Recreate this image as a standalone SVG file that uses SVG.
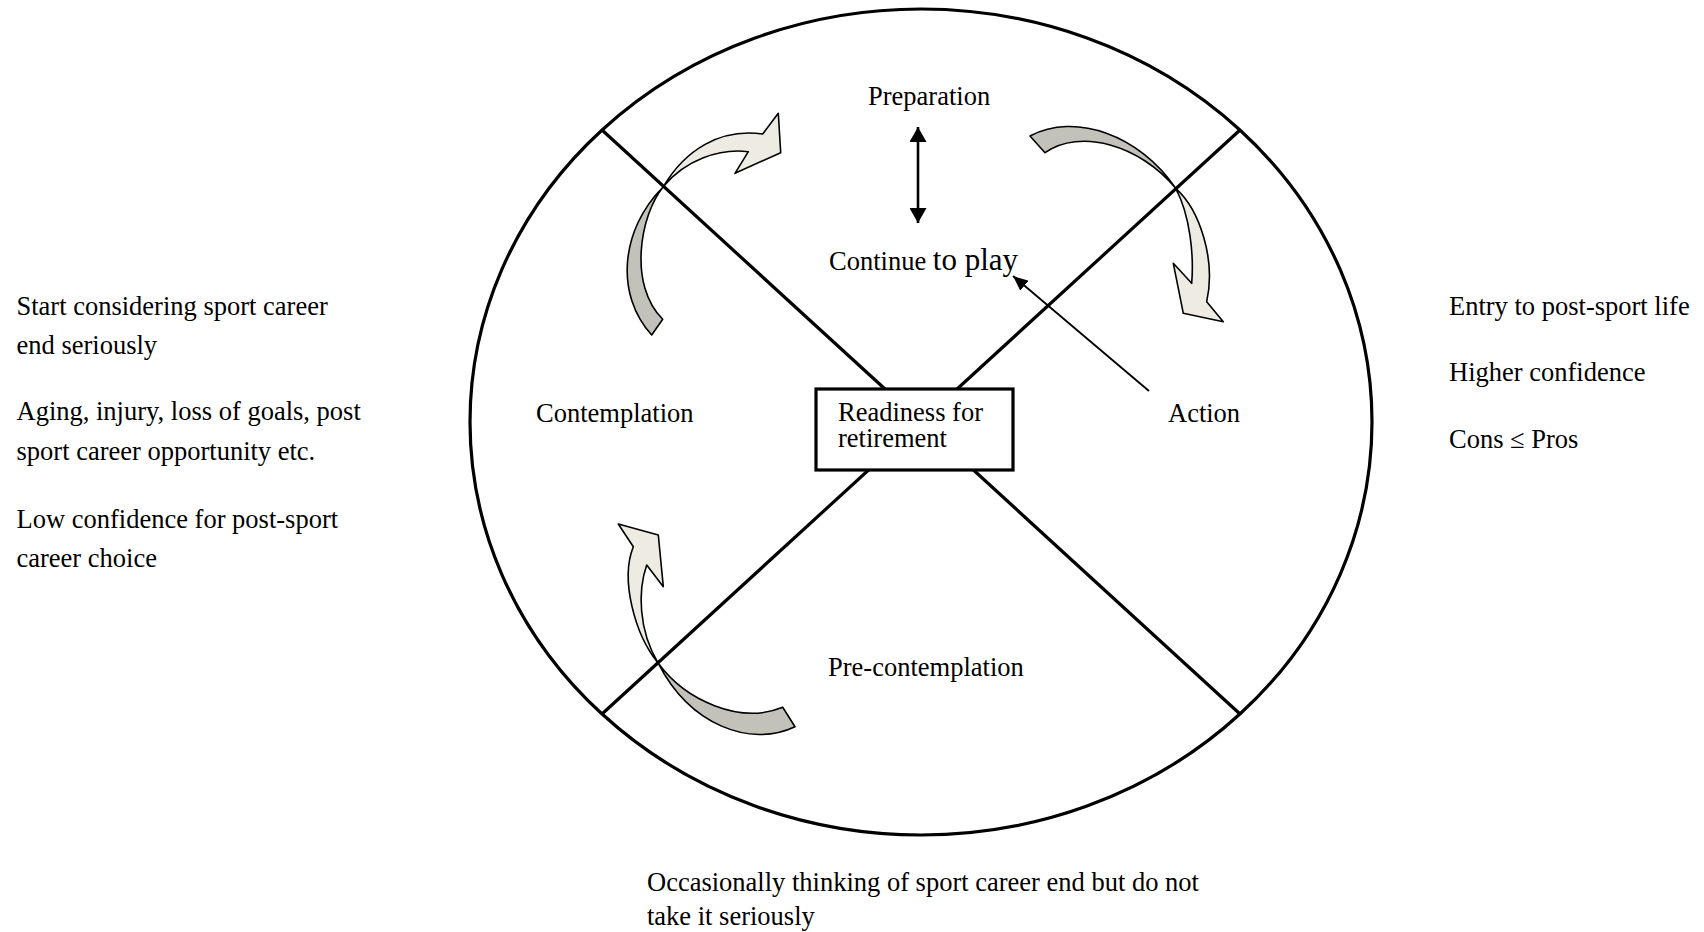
<svg xmlns="http://www.w3.org/2000/svg" width="1704" height="932" viewBox="0 0 1704 932">
<style>
text{font-family:"Liberation Serif","Times New Roman",serif;font-size:26.5px;fill:#000}
.big{font-size:31px}
.frame{fill:none;stroke:#000;stroke-width:3.2}
.box{fill:#fff;stroke:#000;stroke-width:3.2}
.dark{fill:#c3c2ba;stroke:#000;stroke-width:1.6;stroke-linejoin:round}
.light{fill:#eeece2;stroke:#000;stroke-width:1.6;stroke-linejoin:round}
.conn{stroke:#000;fill:none}
</style>
<defs>
<marker id="ahBig" viewBox="0 0 15 17" refX="15" refY="8.5" markerWidth="15" markerHeight="17" markerUnits="userSpaceOnUse" orient="auto-start-reverse">
<path d="M0,0 L15,8.5 L0,17 z" fill="#000"/>
</marker>
<marker id="ahSmall" viewBox="0 0 15 13" refX="15" refY="6.5" markerWidth="15" markerHeight="13" markerUnits="userSpaceOnUse" orient="auto">
<path d="M0,0 L15,6.5 L0,13 z" fill="#000"/>
</marker>
</defs>
<rect width="1704" height="932" fill="#fff"/>

<g id="cycle">
<ellipse class="frame" cx="921" cy="422" rx="451" ry="413"/>
<line class="frame" x1="602" y1="130" x2="1240" y2="714"/>
<line class="frame" x1="1240" y1="130" x2="602" y2="714"/>
</g>

<g id="connectors">
<line class="conn" stroke-width="2.6" x1="918" y1="127" x2="918" y2="223" marker-start="url(#ahBig)" marker-end="url(#ahBig)"/>
<line class="conn" stroke-width="1.8" x1="1149" y1="391" x2="1013" y2="276" marker-end="url(#ahSmall)"/>
<g id="arrow-contemplation-preparation">
<path class="dark" d="M651.7,335 C615,295 620,230 663.3,186.7 C640,215 628,285 662.7,319.3 Z"/>
<path class="light" d="M663.3,186.7 C685,150 720,128 762.7,134 L778.3,113.3 L780.7,152.7 L735,173.3 L748.3,151.7 C720,148 685,160 663.3,186.7 Z"/>
</g>
<g id="arrow-preparation-action">
<path class="dark" d="M1030,136 C1075,112 1140,135 1175.7,188.3 C1140,145 1080,128 1045,152.7 Z"/>
<path class="light" d="M1175.7,188.3 C1200,210 1216,260 1206.7,301.7 L1223.3,321.7 L1183.3,313.3 L1173.3,263.3 L1191.7,283.3 C1194,255 1190,215 1175.7,188.3 Z"/>
</g>
<g id="arrow-precontemplation-contemplation">
<path class="dark" d="M782.7,707.3 L795,726.7 C750,748 690,725 658.3,663.3 C685,700 740,725 782.7,707.3 Z"/>
<path class="light" d="M658.3,663.3 C635,635 620,580 633.3,546.7 L618.3,524 L658.3,535 L663.3,586.7 L646.7,565 C638,590 638,630 658.3,663.3 Z"/>
</g>
</g>

<g id="node-readiness">
<rect class="box" x="816" y="389" width="197" height="81"/>
<text x="838" y="421">Readiness for</text>
<text x="838" y="447">retirement</text>
</g>
<g id="node-preparation"><text x="868" y="105">Preparation</text></g>
<g id="node-continue"><text x="829" y="270">Continue <tspan class="big">to play</tspan></text></g>
<g id="node-contemplation"><text x="536" y="422">Contemplation</text></g>
<g id="node-action"><text x="1168" y="422">Action</text></g>
<g id="node-precontemplation"><text x="828" y="676">Pre-contemplation</text></g>

<g id="note-left">
<text x="16.5" y="315">Start considering sport career</text>
<text x="16.5" y="354">end seriously</text>
<text x="16.5" y="420">Aging, injury, loss of goals, post</text>
<text x="16.5" y="460">sport career opportunity etc.</text>
<text x="16.5" y="528">Low confidence for post-sport</text>
<text x="16.5" y="567">career choice</text>
</g>
<g id="note-right">
<text x="1449" y="315">Entry to post-sport life</text>
<text x="1449" y="381">Higher confidence</text>
<text x="1449" y="448">Cons ≤ Pros</text>
</g>
<g id="note-bottom">
<text x="647" y="891">Occasionally thinking of sport career end but do not</text>
<text x="647" y="925">take it seriously</text>
</g>
</svg>
